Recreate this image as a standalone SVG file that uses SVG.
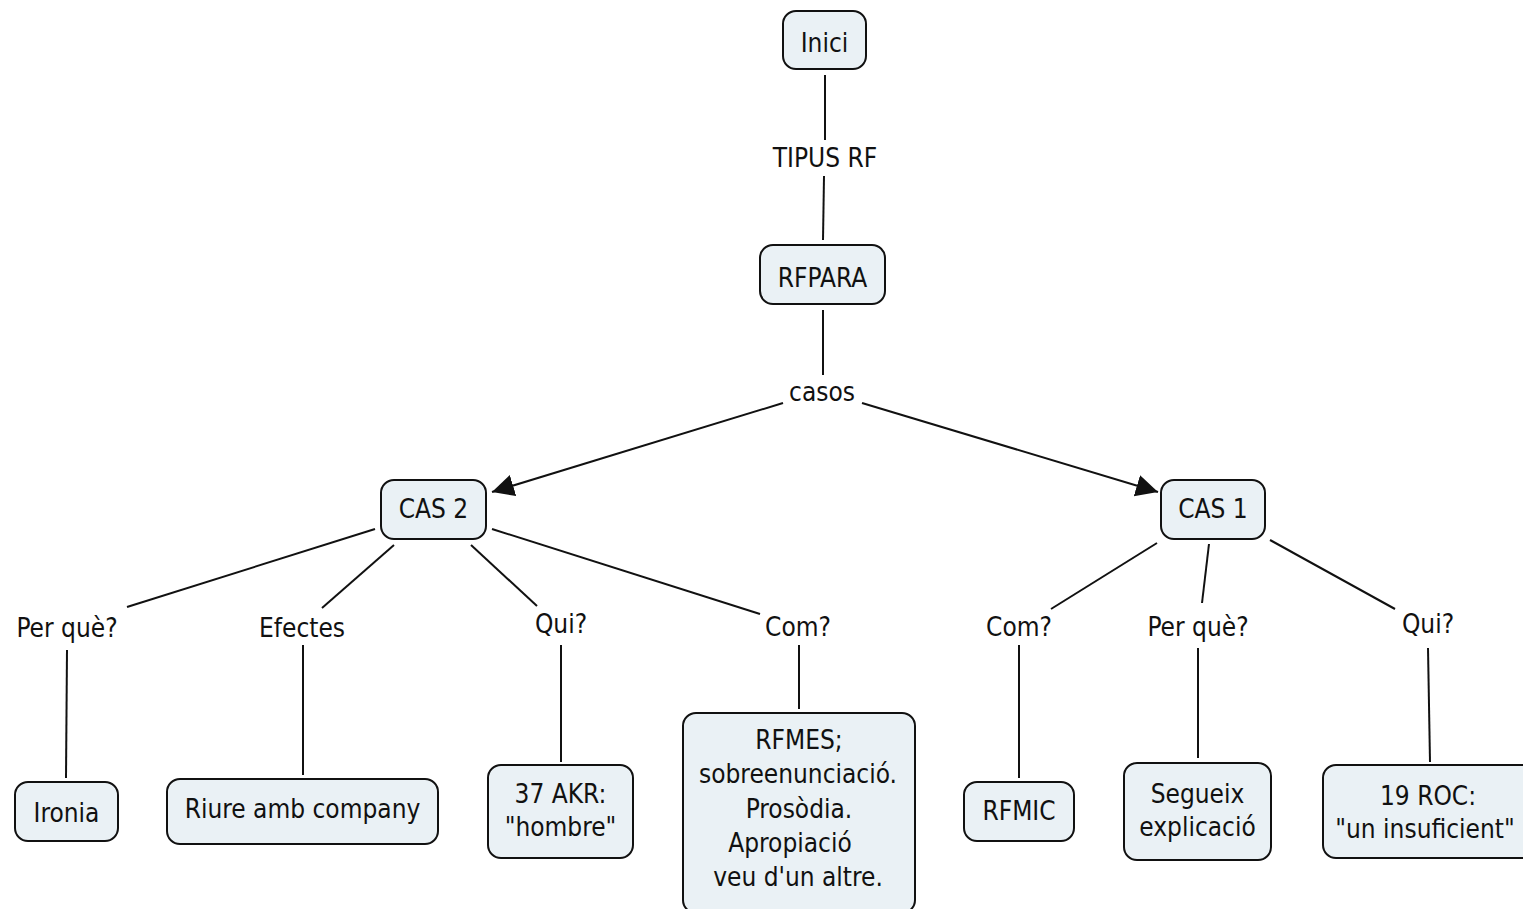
<svg xmlns="http://www.w3.org/2000/svg" width="1523" height="909" viewBox="0 0 1523 909">
  <style>
    .box { fill: #eaf1f5; stroke: #111; stroke-width: 2; }
    .t { font-family: "DejaVu Sans Condensed", "DejaVu Sans", Verdana, sans-serif; font-stretch: semi-condensed; font-size: 26px; fill: #111; text-anchor: middle; }
    .ln { stroke: #111; stroke-width: 2; fill: none; }
  </style>
  <defs>
    <marker id="arrow" markerUnits="userSpaceOnUse" markerWidth="24" markerHeight="24" refX="22" refY="11" orient="auto">
      <path d="M0,0 L22,11 L0,22 z" fill="#111"/>
    </marker>
  </defs>

  <rect width="1523" height="909" fill="#fff"/>

  <!-- connectors -->
  <g id="connectors">
    <line class="ln" x1="825" y1="75" x2="825" y2="140"/>
    <line class="ln" x1="824" y1="176" x2="823" y2="240"/>
    <line class="ln" x1="823" y1="310" x2="823" y2="375"/>
    <line class="ln" x1="783" y1="403" x2="492" y2="492" marker-end="url(#arrow)"/>
    <line class="ln" x1="862" y1="403" x2="1158" y2="492" marker-end="url(#arrow)"/>

    <line class="ln" x1="375" y1="529" x2="127" y2="607"/>
    <line class="ln" x1="394" y1="545" x2="322" y2="608"/>
    <line class="ln" x1="471" y1="545" x2="537" y2="606"/>
    <line class="ln" x1="492" y1="529" x2="760" y2="614"/>

    <line class="ln" x1="67" y1="650" x2="66" y2="778"/>
    <line class="ln" x1="303" y1="645" x2="303" y2="775"/>
    <line class="ln" x1="561" y1="645" x2="561" y2="762"/>
    <line class="ln" x1="799" y1="645" x2="799" y2="709"/>

    <line class="ln" x1="1157" y1="543" x2="1051" y2="609"/>
    <line class="ln" x1="1209" y1="544" x2="1202" y2="603"/>
    <line class="ln" x1="1270" y1="540" x2="1395" y2="609"/>

    <line class="ln" x1="1019" y1="645" x2="1019" y2="778"/>
    <line class="ln" x1="1198" y1="648" x2="1198" y2="758"/>
    <line class="ln" x1="1428" y1="648" x2="1430" y2="762"/>
  </g>

  <!-- linking phrases -->
  <g id="labels">
    <text class="t" x="825" y="167">TIPUS RF</text>
    <text class="t" x="822" y="401">casos</text>
    <text class="t" x="67" y="637">Per què?</text>
    <text class="t" x="302" y="637">Efectes</text>
    <text class="t" x="561" y="633">Qui?</text>
    <text class="t" x="798" y="636">Com?</text>
    <text class="t" x="1019" y="636">Com?</text>
    <text class="t" x="1198" y="636">Per què?</text>
    <text class="t" x="1428" y="633">Qui?</text>
  </g>

  <!-- concepts -->
  <g id="node-inici">
    <rect class="box" x="783" y="11" width="83" height="58" rx="13"/>
    <text class="t" x="824.5" y="52">Inici</text>
  </g>
  <g id="node-rfpara">
    <rect class="box" x="760" y="245" width="125" height="59" rx="13"/>
    <text class="t" x="822.5" y="287">RFPARA</text>
  </g>
  <g id="node-cas2">
    <rect class="box" x="381" y="480" width="105" height="59" rx="13"/>
    <text class="t" x="433.5" y="518">CAS 2</text>
  </g>
  <g id="node-cas1">
    <rect class="box" x="1161" y="480" width="104" height="59" rx="13"/>
    <text class="t" x="1213" y="518">CAS 1</text>
  </g>
  <g id="node-ironia">
    <rect class="box" x="15" y="782" width="103" height="59" rx="13"/>
    <text class="t" x="66.5" y="822">Ironia</text>
  </g>
  <g id="node-riure">
    <rect class="box" x="167" y="779" width="271" height="65" rx="13"/>
    <text class="t" x="302.5" y="818">Riure amb company</text>
  </g>
  <g id="node-akr">
    <rect class="box" x="488" y="765" width="145" height="93" rx="13"/>
    <text class="t" x="560.5" y="803">37 AKR:</text>
    <text class="t" x="560.5" y="836">"hombre"</text>
  </g>
  <g id="node-rfmes">
    <rect class="box" x="683" y="713" width="232" height="200" rx="13"/>
    <text class="t" x="799" y="749">RFMES;</text>
    <text class="t" x="798" y="783">sobreenunciació.</text>
    <text class="t" x="799" y="818">Prosòdia.</text>
    <text class="t" x="790" y="852">Apropiació</text>
    <text class="t" x="798" y="886">veu d'un altre.</text>
  </g>
  <g id="node-rfmic">
    <rect class="box" x="964" y="782" width="110" height="59" rx="13"/>
    <text class="t" x="1019" y="820">RFMIC</text>
  </g>
  <g id="node-segueix">
    <rect class="box" x="1124" y="763" width="147" height="97" rx="13"/>
    <text class="t" x="1197.5" y="803">Segueix</text>
    <text class="t" x="1197.5" y="836">explicació</text>
  </g>
  <g id="node-roc">
    <rect class="box" x="1323" y="765" width="215" height="93" rx="13"/>
    <text class="t" x="1428" y="805">19 ROC:</text>
    <text class="t" x="1425" y="838">"un insuficient"</text>
  </g>
</svg>
